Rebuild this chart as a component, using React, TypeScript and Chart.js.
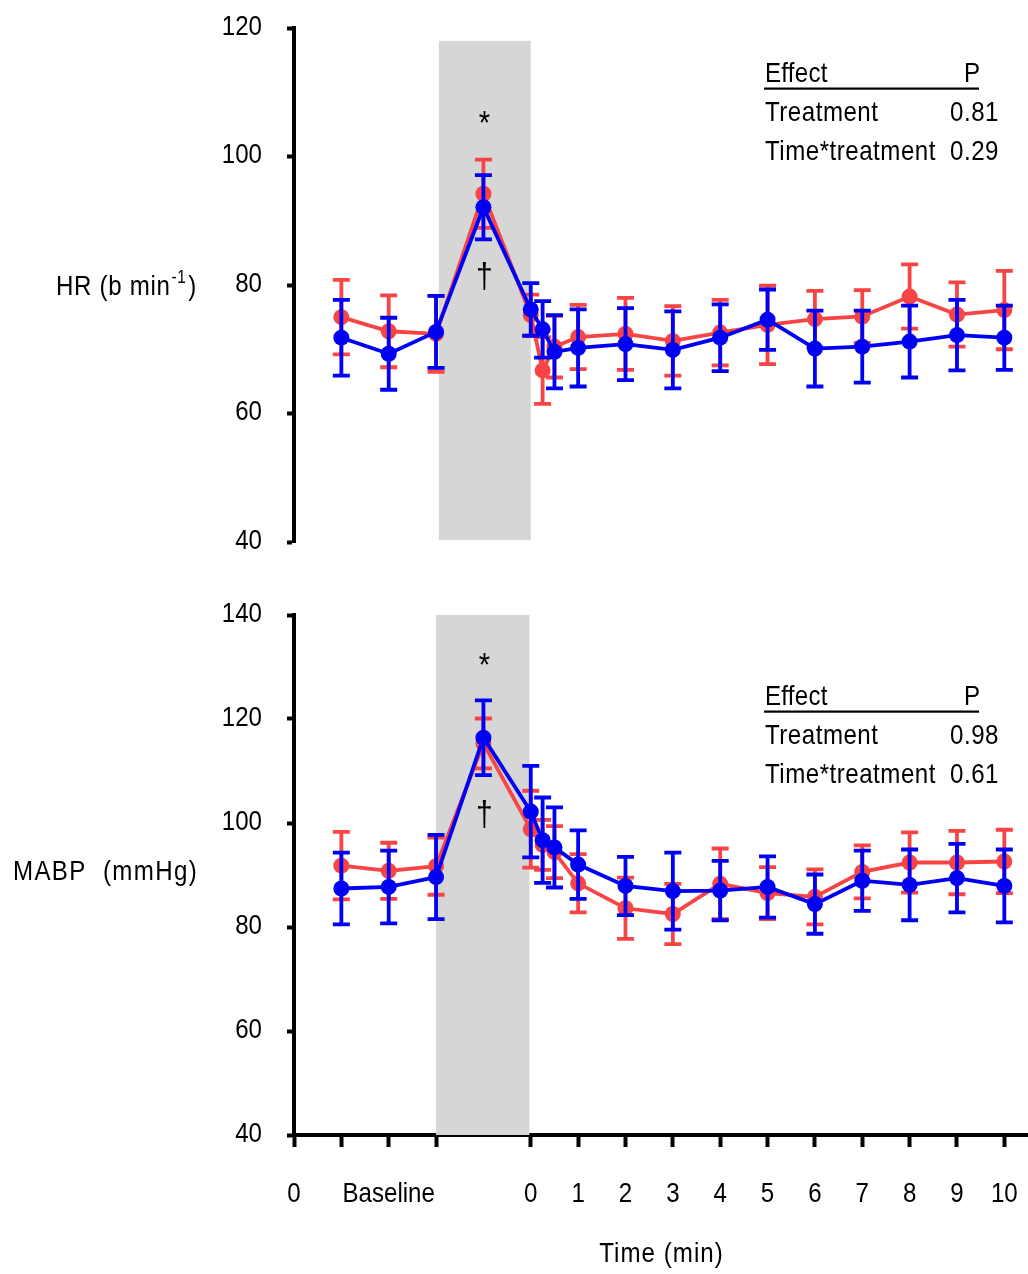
import React, { useEffect, useRef } from 'react';
import { Chart, registerables } from 'chart.js';
Chart.register(...registerables);

// ---- data ----
const xValues = [1, 2, 3, 4, 5, 5.25, 5.5, 6, 7, 8, 9, 10, 11, 12, 13, 14, 15];
const xTickValues = [0, 1, 2, 3, 5, 6, 7, 8, 9, 10, 11, 12, 13, 14, 15];
const xTickLabels = ['0', '', 'Baseline', '', '0', '1', '2', '3', '4', '5', '6', '7', '8', '9', '10'];

const hrRedMean = [75.0, 72.8, 72.4, 94.2, 75.3, 66.7, 70.4, 71.9, 72.4, 71.3, 72.6, 73.8, 74.7, 75.1, 78.2, 75.4, 76.1];
const hrRedSd = [5.8, 5.6, 5.9, 5.3, 3.2, 5.2, 4.8, 5.0, 5.6, 5.4, 5.1, 6.1, 4.4, 4.1, 5.0, 5.0, 6.1];
const hrBlueMean = [71.8, 69.3, 72.7, 92.1, 76.2, 73.1, 69.6, 70.2, 70.8, 69.9, 71.8, 74.6, 70.1, 70.4, 71.2, 72.2, 71.8];
const hrBlueSd = [5.9, 5.6, 5.6, 5.0, 4.1, 4.4, 5.7, 6.0, 5.6, 6.0, 5.2, 4.7, 5.9, 5.6, 5.6, 5.5, 5.0];

const mabpRedMean = [91.8, 90.8, 91.7, 115.3, 98.8, 95.8, 94.4, 88.4, 83.6, 82.5, 88.3, 86.5, 85.8, 90.6, 92.4, 92.4, 92.6];
const mabpRedSd = [6.5, 5.4, 5.5, 4.8, 7.4, 4.8, 5.0, 5.6, 5.9, 5.8, 6.8, 5.0, 5.3, 5.1, 5.8, 6.1, 6.1];
const mabpBlueMean = [87.4, 87.7, 89.6, 116.4, 102.2, 96.7, 95.3, 92.0, 87.9, 86.9, 87.0, 87.7, 84.4, 88.9, 88.1, 89.4, 87.9];
const mabpBlueSd = [6.9, 7.0, 8.1, 7.2, 8.8, 8.2, 7.7, 6.6, 5.6, 7.4, 5.7, 5.9, 5.7, 5.8, 6.8, 6.6, 7.0];

const hrTicks = [40, 60, 80, 100, 120];
const mabpTicks = [40, 60, 80, 100, 120, 140];

const hrStats = [['Treatment', '0.81'], ['Time*treatment', '0.29']];
const mabpStats = [['Treatment', '0.98'], ['Time*treatment', '0.61']];

const hrShade = [3.06, 5.0, 40.3, 118];
const mabpShade = [3.0, 4.97, 40, 140];

const hrMarks = [['*', 4, 104.9], ['\u2020', 4, 81.0]];
const mabpMarks = [['*', 4, 130.1], ['\u2020', 4, 101.3]];

// ---- styling ----
const FONT = "'Liberation Sans', Arial, sans-serif";
const FS = 28;
const SX = 0.86;
const RED = 'rgb(248,68,68)';
const BLUE = 'rgb(0,0,245)';

function sqText(ctx: any, text: string, x: number, y: number, size: number, align: string, baseline: string, spacing = 0): number {
  ctx.save();
  ctx.font = `${size}px ${FONT}`;
  ctx.textAlign = align;
  ctx.textBaseline = baseline;
  ctx.letterSpacing = `${spacing}px`;
  ctx.fillStyle = '#000';
  ctx.translate(x, y);
  ctx.scale(SX, 1);
  ctx.fillText(text, 0, 0);
  const w = ctx.measureText(text).width * SX;
  ctx.restore();
  return w;
}

const errorBarPlugin = {
  id: 'errorBars',
  beforeDatasetDraw(chart: any, args: any) {
    const ds = chart.data.datasets[args.index];
    const sds = ds.sd;
    if (!sds) return;
    const yS = chart.scales.y;
    const ctx = chart.ctx;
    ctx.save();
    ctx.strokeStyle = ds.borderColor;
    ctx.lineWidth = 3.8;
    args.meta.data.forEach((pt: any, i: number) => {
      const v = ds.data[i].y;
      const s = sds[i];
      const x = pt.x;
      const yt = yS.getPixelForValue(v + s);
      const yb = yS.getPixelForValue(v - s);
      ctx.beginPath();
      ctx.moveTo(x, yt);
      ctx.lineTo(x, yb);
      ctx.moveTo(x - 8.5, yt);
      ctx.lineTo(x + 8.5, yt);
      ctx.moveTo(x - 8.5, yb);
      ctx.lineTo(x + 8.5, yb);
      ctx.stroke();
    });
    ctx.restore();
  },
};

const decorPlugin = {
  id: 'decor',
  beforeDatasetsDraw(chart: any) {
    const o = chart.options.plugins.decor;
    const xS = chart.scales.x;
    const yS = chart.scales.y;
    const ctx = chart.ctx;
    const [x0, x1, y0, y1] = o.shade;
    ctx.save();
    ctx.fillStyle = '#D6D6D6';
    const px0 = xS.getPixelForValue(x0);
    const px1 = xS.getPixelForValue(x1);
    const py0 = yS.getPixelForValue(y1);
    const py1 = yS.getPixelForValue(y0);
    ctx.fillRect(px0, py0, px1 - px0, py1 - py0);
    ctx.restore();
  },
  afterDraw(chart: any) {
    const o = chart.options.plugins.decor;
    const xS = chart.scales.x;
    const yS = chart.scales.y;
    const ctx = chart.ctx;
    // y tick labels
    yS.ticks.forEach((t: any) => {
      sqText(ctx, String(t.value), yS.right - 32, yS.getPixelForValue(t.value) - 1, FS, 'right', 'middle');
    });
    // x tick labels
    if (o.showX) {
      xS.ticks.forEach((t: any) => {
        const i = xTickValues.indexOf(t.value);
        const lab = i >= 0 ? xTickLabels[i] : '';
        if (lab) sqText(ctx, lab, xS.getPixelForValue(t.value), xS.top + 66.5, FS, 'center', 'alphabetic');
      });
      sqText(ctx, o.xTitle, 661.5, xS.top + 126.5, FS, 'center', 'alphabetic', 1.2);
    }
    // significance marks
    o.marks.forEach((m: any) => {
      sqText(ctx, m[0], xS.getPixelForValue(m[1]) + 1, yS.getPixelForValue(m[2]), m[0] === '*' ? 34 : 35, 'center', 'middle');
    });
    // y title
    let tx = o.titleX;
    tx += sqText(ctx, o.title, tx, o.titleY, FS, 'left', 'alphabetic', o.titleSpacing);
    if (o.titleSup) {
      tx += sqText(ctx, o.titleSup, tx + 1, o.titleY - 12, 18, 'left', 'alphabetic', 0.5) + 3;
      sqText(ctx, o.titleEnd, tx, o.titleY, FS, 'left', 'alphabetic');
    }
    // stats box
    const sy = o.statsY;
    sqText(ctx, 'Effect', 765, sy, FS, 'left', 'alphabetic', 0.3);
    sqText(ctx, 'P', 980, sy, FS, 'right', 'alphabetic');
    ctx.save();
    ctx.fillStyle = '#000';
    ctx.fillRect(764, sy + 5.5, 215, 2.2);
    ctx.restore();
    o.stats.forEach((row: any, i: number) => {
      const ry = sy + 39 + i * 39.3;
      sqText(ctx, row[0], 765, ry, FS, 'left', 'alphabetic', 0.6);
      sqText(ctx, row[1], 999, ry, FS, 'right', 'alphabetic', 0.6);
    });
  },
};

const zeroPad = (s: any) => {
  s.paddingTop = 0;
  s.paddingBottom = 0;
  s.paddingLeft = 0;
  s.paddingRight = 0;
};

function buildConfig(p: any): any {
  const mk = (means: number[], sds: number[], color: string) => ({
    data: xValues.map((x, i) => ({ x, y: means[i] })),
    sd: sds,
    borderColor: color,
    backgroundColor: color,
    pointBackgroundColor: color,
    pointBorderWidth: 0,
    pointRadius: 8,
    borderWidth: 3.8,
    tension: 0,
    clip: false,
  });
  return {
    type: 'line',
    data: {
      datasets: [mk(p.blueMean, p.blueSd, BLUE), mk(p.redMean, p.redSd, RED)],
    },
    plugins: [errorBarPlugin, decorPlugin],
    options: {
      animation: false,
      responsive: false,
      devicePixelRatio: 1,
      layout: { padding: p.padding, autoPadding: false },
      plugins: {
        legend: { display: false },
        tooltip: { enabled: false },
        decor: {
          shade: p.shade,
          marks: p.marks,
          title: p.title,
          titleSup: p.titleSup,
          titleEnd: p.titleEnd,
          titleX: p.titleX,
          titleY: p.titleY,
          titleSpacing: p.titleSpacing,
          stats: p.stats,
          statsY: p.statsY,
          showX: p.showX,
          xTitle: p.xTitle,
        },
      },
      scales: {
        x: {
          type: 'linear',
          min: 0,
          max: 15.5,
          display: p.showX,
          afterFit: (s: any) => {
            zeroPad(s);
            if (p.showX) s.height = p.xHeight;
          },
          afterBuildTicks: (s: any) => {
            s.ticks = xTickValues.map((v) => ({ value: v }));
          },
          border: { display: true, color: '#000', width: 4 },
          grid: { drawOnChartArea: false, drawTicks: true, tickLength: 12, tickWidth: 4, tickColor: '#000' },
          ticks: { display: false, autoSkip: false, maxRotation: 0 },
        },
        y: {
          type: 'linear',
          min: p.yTicks[0],
          max: p.yTicks[p.yTicks.length - 1],
          afterFit: (s: any) => {
            zeroPad(s);
            s.width = 294;
          },
          afterBuildTicks: (s: any) => {
            s.ticks = p.yTicks.map((v: number) => ({ value: v }));
          },
          border: { display: true, color: '#000', width: 4 },
          grid: { drawOnChartArea: false, drawTicks: true, tickLength: 7, tickWidth: 4, tickColor: '#000' },
          ticks: { display: false },
        },
      },
    },
  };
}

export default function App() {
  const topRef = useRef<HTMLCanvasElement>(null);
  const botRef = useRef<HTMLCanvasElement>(null);
  useEffect(() => {
    const top = new Chart(
      topRef.current as HTMLCanvasElement,
      buildConfig({
        redMean: hrRedMean,
        redSd: hrRedSd,
        blueMean: hrBlueMean,
        blueSd: hrBlueSd,
        yTicks: hrTicks,
        padding: { top: 28, bottom: 18, left: 0, right: 0 },
        shade: hrShade,
        marks: hrMarks,
        title: 'HR (b min',
        titleSup: '-1',
        titleEnd: ')',
        titleX: 56,
        titleY: 295,
        titleSpacing: 0.8,
        stats: hrStats,
        statsY: 82,
        showX: false,
      })
    );
    const bot = new Chart(
      botRef.current as HTMLCanvasElement,
      buildConfig({
        redMean: mabpRedMean,
        redSd: mabpRedSd,
        blueMean: mabpBlueMean,
        blueSd: mabpBlueSd,
        yTicks: mabpTicks,
        padding: { top: 55, bottom: 0, left: 0, right: 0 },
        shade: mabpShade,
        marks: mabpMarks,
        title: 'MABP  (mmHg)',
        titleX: 13,
        titleY: 320,
        titleSpacing: 1.6,
        stats: mabpStats,
        statsY: 145,
        showX: true,
        xHeight: 139,
        xTitle: 'Time (min)',
      })
    );
    return () => {
      top.destroy();
      bot.destroy();
    };
  }, []);
  return (
    <div style={{ position: 'absolute', left: 0, top: 0, width: 1028, height: 1274, background: '#fff' }}>
      <canvas ref={topRef} width={1028} height={560} style={{ position: 'absolute', left: 0, top: 0, width: 1028, height: 560 }} />
      <canvas ref={botRef} width={1028} height={714} style={{ position: 'absolute', left: 0, top: 560, width: 1028, height: 714 }} />
    </div>
  );
}
